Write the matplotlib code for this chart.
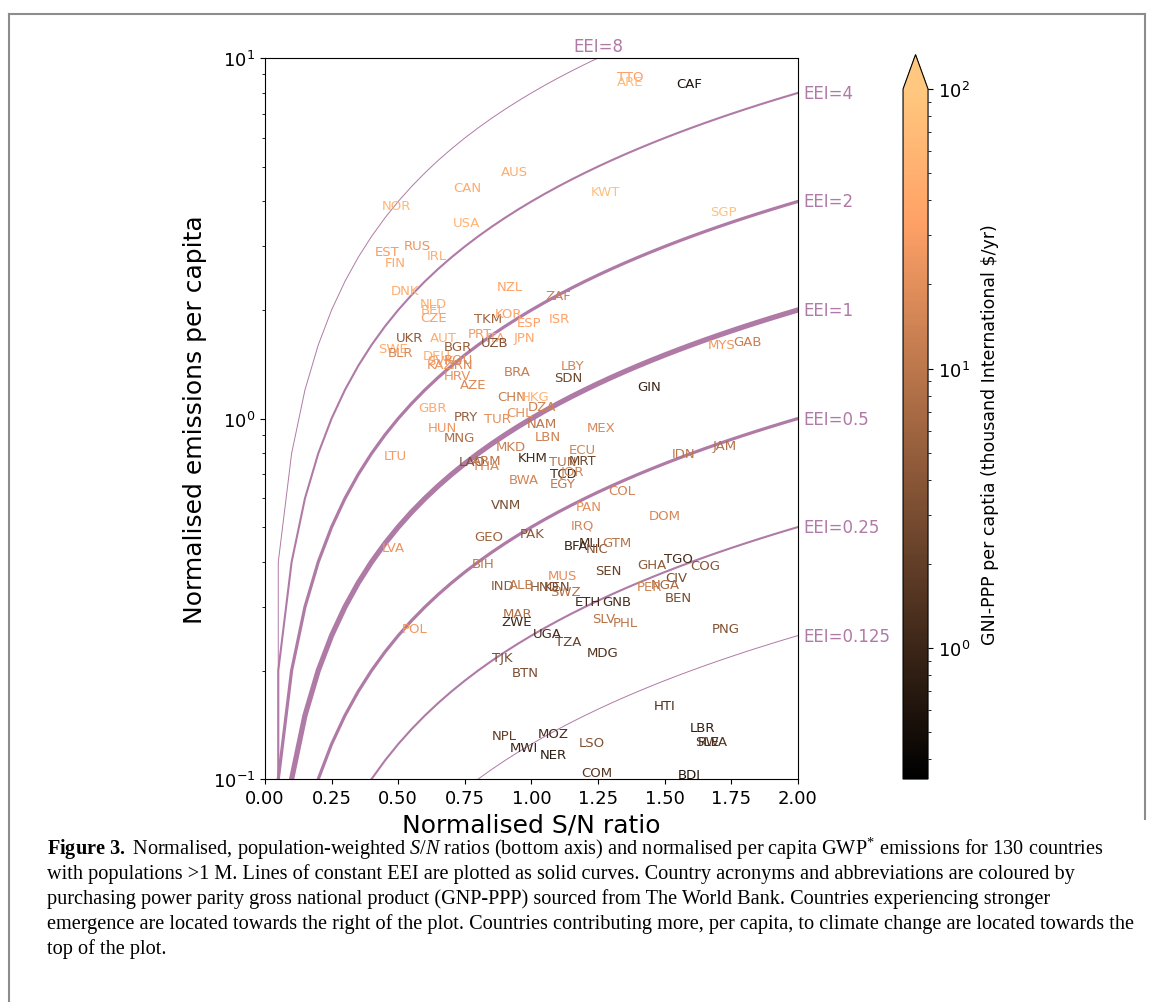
import numpy as np
import matplotlib as mp
import matplotlib.pyplot as plt
from matplotlib.colors import LogNorm
from matplotlib.lines import Line2D

mp.rcParams['mathtext.fontset'] = 'custom'
mp.rcParams['mathtext.rm'] = 'Liberation Serif'
mp.rcParams['mathtext.it'] = 'Liberation Serif:italic'
mp.rcParams['mathtext.bf'] = 'Liberation Serif:bold'

# country codes, normalised S/N, normalised emissions per capita, GNI-PPP (k$/yr)
codes = ['NOR', 'CAN', 'AUS', 'USA', 'EST', 'RUS', 'IRL', 'FIN', 'NZL', 'TTO',
         'ARE', 'CAF', 'KWT', 'SGP', 'DNK', 'NLD', 'BEL', 'CZE', 'TKM', 'KOR',
         'ESP', 'ISR', 'ZAF', 'UKR', 'AUT', 'PRT', 'ITA', 'UZB', 'JPN', 'SWE',
         'BLR', 'BGR', 'DEU', 'SVK', 'ROU', 'KAZ', 'IRN', 'HRV', 'AZE', 'BRA',
         'CHN', 'HKG', 'DZA', 'CHL', 'GBR', 'PRY', 'TUR', 'NAM', 'LBN', 'HUN',
         'MNG', 'MKD', 'LTU', 'KHM', 'LAO', 'ARM', 'THA', 'LBY', 'SDN', 'GIN',
         'MYS', 'GAB', 'MEX', 'ECU', 'TUN', 'MRT', 'JAM', 'IDN', 'TCD', 'JOR',
         'EGY', 'COL', 'PAN', 'DOM', 'IRQ', 'BFA', 'MLI', 'NIC', 'GTM', 'SEN',
         'GHA', 'TGO', 'COG', 'CIV', 'NGA', 'PER', 'BEN', 'MUS', 'KEN', 'HND',
         'SWZ', 'ETH', 'GNB', 'SLV', 'PHL', 'PNG', 'UGA', 'TZA', 'VNM', 'BWA',
         'GEO', 'PAK', 'LVA', 'BIH', 'IND', 'ALB', 'MAR', 'ZWE', 'POL', 'TJK',
         'BTN', 'NPL', 'MWI', 'MOZ', 'NER', 'MDG', 'HTI', 'LBR', 'SLE', 'RWA',
         'LSO', 'COM', 'BDI']
sn_ratio = [0.495, 0.758, 0.938, 0.758, 0.458, 0.570, 0.645, 0.488, 0.919, 1.370,
            1.370, 1.591, 1.276, 1.719, 0.525, 0.630, 0.630, 0.634, 0.837, 0.912,
            0.991, 1.103, 1.099, 0.544, 0.668, 0.807, 0.867, 0.863, 0.972, 0.480,
            0.507, 0.724, 0.645, 0.657, 0.724, 0.657, 0.739, 0.724, 0.780, 0.946,
            0.927, 1.013, 1.039, 0.953, 0.630, 0.754, 0.871, 1.039, 1.062, 0.664,
            0.728, 0.923, 0.488, 1.006, 0.777, 0.833, 0.829, 1.156, 1.137, 1.441,
            1.715, 1.809, 1.261, 1.189, 1.118, 1.193, 1.726, 1.572, 1.118, 1.152,
            1.118, 1.340, 1.216, 1.501, 1.193, 1.167, 1.220, 1.246, 1.321, 1.287,
            1.452, 1.550, 1.651, 1.542, 1.501, 1.441, 1.550, 1.118, 1.096, 1.051,
            1.126, 1.212, 1.321, 1.272, 1.351, 1.730, 1.058, 1.137, 0.904, 0.972,
            0.841, 1.002, 0.480, 0.818, 0.893, 0.964, 0.946, 0.946, 0.563, 0.889,
            0.976, 0.897, 0.972, 1.081, 1.081, 1.268, 1.501, 1.640, 1.659, 1.681,
            1.227, 1.246, 1.591]
emissions = [3.91, 4.36, 4.83, 3.49, 2.90, 3.01, 2.84, 2.70, 2.32, 8.91,
             8.58, 8.47, 4.25, 3.74, 2.26, 2.08, 2.00, 1.91, 1.90, 1.95,
             1.85, 1.90, 2.20, 1.68, 1.68, 1.72, 1.68, 1.62, 1.68, 1.56,
             1.52, 1.58, 1.50, 1.45, 1.46, 1.41, 1.41, 1.32, 1.24, 1.35,
             1.15, 1.15, 1.08, 1.04, 1.07, 1.01, 1.00, 0.966, 0.889, 0.942,
             0.883, 0.834, 0.792, 0.782, 0.762, 0.767, 0.743, 1.40, 1.30, 1.23,
             1.60, 1.64, 0.947, 0.818, 0.762, 0.767, 0.844, 0.802, 0.706, 0.715,
             0.662, 0.630, 0.569, 0.537, 0.507, 0.443, 0.454, 0.435, 0.454, 0.378,
             0.393, 0.408, 0.390, 0.363, 0.347, 0.341, 0.318, 0.366, 0.343, 0.343,
             0.332, 0.310, 0.310, 0.278, 0.272, 0.262, 0.254, 0.240, 0.579, 0.679,
             0.472, 0.481, 0.438, 0.397, 0.345, 0.347, 0.288, 0.274, 0.261, 0.217,
             0.198, 0.132, 0.122, 0.134, 0.117, 0.224, 0.160, 0.139, 0.127, 0.127,
             0.126, 0.104, 0.103]
gni = [65, 44, 45, 56, 28, 24, 50, 41, 36, 32,
       72, 0.6, 80, 85, 48, 49, 45, 31, 6, 35,
       34, 35, 13, 4.5, 48, 29, 37, 3.5, 40, 48,
       17, 5, 49, 29, 21, 23, 17, 22, 17, 12,
       12, 58, 14, 22, 41, 5, 20, 10, 14, 25,
       8, 13, 28, 1.2, 3.5, 9, 16, 15, 2.5, 1.0,
       26, 12, 17, 15, 9, 2.5, 8.5, 10, 1.2, 15,
       11, 15, 20, 16, 16, 0.9, 1.3, 4, 9, 2.2,
       4.5, 1.2, 4, 3, 7, 14, 3, 20, 2.5, 3.5,
       9, 1.1, 1.3, 9, 10, 3.5, 1.2, 2.2, 3, 15,
       6, 4, 24, 10, 4.5, 11, 8, 1.1, 26, 3,
       3, 2, 1.0, 1.2, 0.8, 1.5, 1.3, 0.8, 1.2, 1.5,
       3.5, 1.6, 0.6]

eei_levels = [8, 4, 2, 1, 0.5, 0.25, 0.125]
eei_labels = ['EEI=8', 'EEI=4', 'EEI=2', 'EEI=1', 'EEI=0.5', 'EEI=0.25', 'EEI=0.125']
eei_widths = [0.7, 1.5, 2.3, 3.8, 2.3, 1.5, 0.7]

caption = [r"$\mathbf{Figure\ 3.}$ Normalised, population-weighted $\mathit{S/N}$ ratios (bottom axis) and normalised per capita GWP$^{*}$ emissions for 130 countries",
           r"with populations >1 M. Lines of constant EEI are plotted as solid curves. Country acronyms and abbreviations are coloured by",
           r"purchasing power parity gross national product (GNP-PPP) sourced from The World Bank. Countries experiencing stronger",
           r"emergence are located towards the right of the plot. Countries contributing more, per capita, to climate change are located towards the",
           r"top of the plot."]

line_col = '#b07aa6'
fig = plt.figure(figsize=(11.53, 10.03), dpi=100)
ax = fig.add_axes([0.2298, 0.2223, 0.4623, 0.7189])
cax = fig.add_axes([0.7832, 0.2223, 0.0217, 0.7223])

norm = LogNorm(vmin=0.34, vmax=100)
cmap = plt.get_cmap('copper')

xs = np.arange(0, 2.05, 0.05)
for eei, lab, lw in zip(eei_levels, eei_labels, eei_widths):
    ax.plot(xs, eei * xs, color=line_col, lw=lw)
    if eei * 2 > 10:
        ax.text(10 / eei, 10.2, lab, color=line_col, fontsize=12,
                ha='center', va='bottom', clip_on=False)
    else:
        ax.text(2.02, eei * 2, lab, color=line_col, fontsize=12,
                ha='left', va='center', clip_on=False)

for c, x, y, g in zip(codes, sn_ratio, emissions, gni):
    ax.text(x, y, c, color=cmap(norm(g)), fontsize=9.5, ha='center', va='center')

ax.set_yscale('log')
ax.set_xlim(0, 2)
ax.set_ylim(0.1, 10)
ax.set_xticks(np.arange(0, 2.01, 0.25))
ax.tick_params(labelsize=13)
ax.set_xlabel('Normalised S/N ratio', fontsize=18)
ax.set_ylabel('Normalised emissions per capita', fontsize=18, labelpad=4)

sm = plt.cm.ScalarMappable(norm=norm, cmap=cmap)
cb = fig.colorbar(sm, cax=cax, extend='max')
cb.ax.tick_params(labelsize=13)
cb.set_label('GNI-PPP per captia (thousand International $/yr)', fontsize=12.5, labelpad=8)

for i, line in enumerate(caption):
    fig.text(47 / 1153, 1 - (849 + 25 * i) / 1003, line, fontsize=14.6,
             family='Liberation Serif', ha='left', va='center')

# frame around the figure
fig.add_artist(Line2D([8.5 / 1153, 8.5 / 1153], [0, 1 - 14.5 / 1003], color='#8c8c8c', lw=1.5))
fig.add_artist(Line2D([8.5 / 1153, 1145 / 1153], [1 - 14.5 / 1003, 1 - 14.5 / 1003], color='#8c8c8c', lw=1.5))
fig.add_artist(Line2D([1145 / 1153, 1145 / 1153], [1 - 14.5 / 1003, 1 - 820 / 1003], color='#8c8c8c', lw=1.5))

plt.savefig('out.png', dpi=100)
